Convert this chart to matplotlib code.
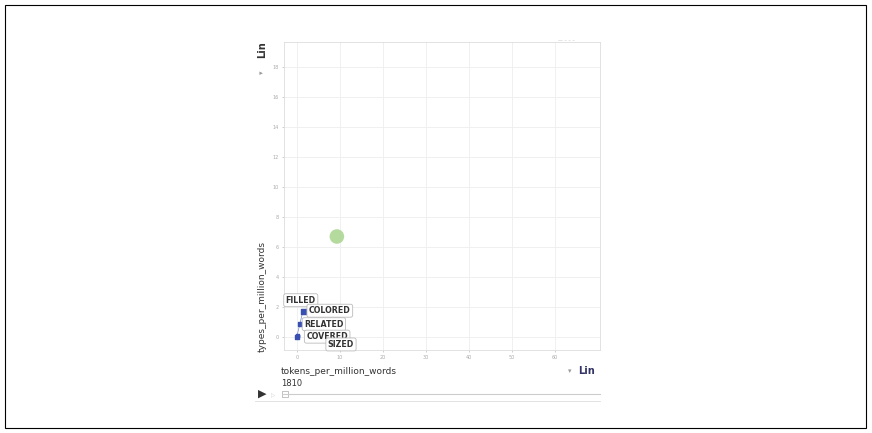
import matplotlib.pyplot as plt
from matplotlib.patches import Rectangle

# words and their values for the year shown (1810)
words = ["FILLED", "COLORED", "RELATED", "COVERED", "SIZED"]
tokens_per_million = [0.1, 1.6, 0.8, 0.0, 0.2]
types_per_million = [0.1, 1.7, 0.85, 0.0, 0.05]
point_sizes = [4, 16, 9, 7, 3]

bubble_x = [9.3]
bubble_y = [6.7]

x_ticks = [0, 10, 20, 30, 40, 50, 60]
y_ticks = [0, 2, 4, 6, 8, 10, 12, 14, 16, 18]
year = "1810"

W, H = 872, 433
fig = plt.figure(figsize=(W / 100, H / 100), dpi=100)
fig.patch.set_facecolor("white")

# outer frame
fig.patches.append(Rectangle((5 / W, 5 / H), 861 / W, 423 / H, transform=fig.transFigure,
                             fill=False, edgecolor="black", linewidth=0.8))

ax = fig.add_axes([284 / W, (H - 350) / H, (600 - 284) / W, (350 - 42) / H])
ax.set_xlim(-3, 70.5)
ax.set_ylim(-0.87, 19.67)
ax.set_xticks(x_ticks)
ax.set_yticks(y_ticks)
ax.tick_params(labelsize=3.5, colors="#aaaaaa", length=1.5, width=0.4, pad=2)
ax.grid(True, color="#eeeeee", linewidth=0.6)
ax.set_axisbelow(True)
for s in ax.spines.values():
    s.set_color("#dddddd")
    s.set_linewidth(0.6)

ax.scatter(bubble_x, bubble_y, s=110, color="#a8d48c", alpha=0.85, edgecolors="none", zorder=3)

# leader line for FILLED
ax.plot([0.0, 1.3], [0.05, 1.6], color="#7788cc", linewidth=0.5, zorder=3)
ax.scatter(tokens_per_million, types_per_million, s=point_sizes, color="#3a50b0",
           marker="s", zorder=4)

label_pos = {
    "FILLED": (-2.6, 2.45),
    "COLORED": (2.8, 1.75),
    "RELATED": (1.7, 0.85),
    "COVERED": (2.2, 0.02),
    "SIZED": (7.2, -0.5),
}
for w in words:
    lx, ly = label_pos[w]
    ax.text(lx, ly, w, fontsize=5.7, fontweight="bold", color="#333333", va="center",
            ha="left", zorder=6,
            bbox=dict(boxstyle="round,pad=0.25", facecolor="white", edgecolor="#bbbbbb",
                      linewidth=0.6))

# axis titles and scale menus
fig.text(262 / W, 1 - 296 / H, "types_per_million_words", rotation=90, fontsize=6.5,
         color="#333333", ha="center", va="center")
fig.text(262 / W, 1 - 50 / H, "Lin", rotation=90, fontsize=7, fontweight="bold",
         color="#333333", ha="center", va="center")
fig.text(262 / W, 1 - 72 / H, "\u25be", rotation=90, fontsize=5, color="#999999",
         ha="center", va="center")
fig.text(281 / W, 1 - 371 / H, "tokens_per_million_words", fontsize=6.5,
         color="#333333", ha="left", va="center")
fig.text(578 / W, 1 - 371 / H, "Lin", fontsize=7, fontweight="bold",
         color="#333366", ha="left", va="center")
fig.text(570 / W, 1 - 371 / H, "\u25be", fontsize=5, color="#999999",
         ha="center", va="center")
fig.text(558 / W, 1 - 40 / H, "\u2014 \u2013 \u2013 \u2013", fontsize=3.5, color="#bbbbbb",
         ha="left", va="center")

# play control and time slider
fig.text(262 / W, 1 - 394 / H, "\u25b6", fontsize=8, color="#333333", ha="center", va="center")
fig.text(273 / W, 1 - 396 / H, "\u25b7", fontsize=4, color="#cccccc", ha="center", va="center")
fig.text(281 / W, 1 - 384 / H, year, fontsize=6, color="#333333", ha="left", va="center")
fig.lines.append(plt.Line2D([282 / W, 600 / W], [1 - 394 / H, 1 - 394 / H],
                            transform=fig.transFigure, color="#cccccc", linewidth=0.8))
fig.patches.append(Rectangle((282 / W, 1 - 397 / H), 6 / W, 6 / H, transform=fig.transFigure,
                             facecolor="white", edgecolor="#aaaaaa", linewidth=0.5))
fig.lines.append(plt.Line2D([255 / W, 600 / W], [1 - 401 / H, 1 - 401 / H],
                            transform=fig.transFigure, color="#dddddd", linewidth=0.6))

fig.savefig("out.png", dpi=100)
